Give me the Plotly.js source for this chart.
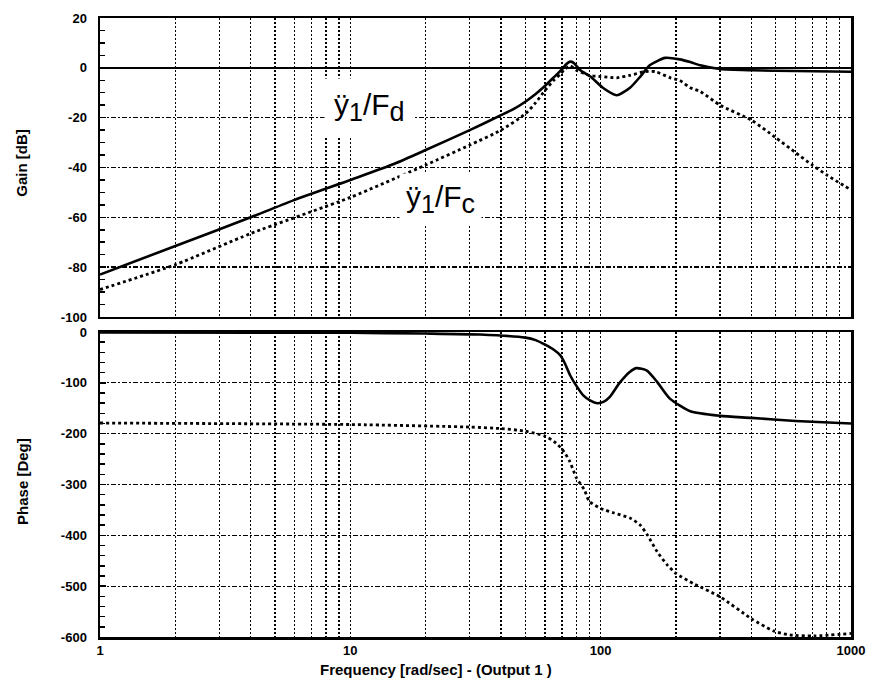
<!DOCTYPE html>
<html>
<head>
<meta charset="utf-8">
<script src="https://cdn.plot.ly/plotly-3.0.1.min.js"></script>
<style>
  html, body { margin: 0; padding: 0; background: #fff; }
  #plot { width: 872px; height: 684px; }
</style>
</head>
<body>
<div id="plot"></div>
<script>
// Frequency response of output 1: acceleration per disturbance force (Fd) and per control force (Fc)

// Gain, y1''/Fd  (solid)
const gainFdFreq = [1, 2, 4, 6, 10, 15, 20, 30, 40, 45, 50, 55, 60, 65, 70, 73, 75.5, 78, 83, 91, 102, 116, 131, 144, 157, 181, 207, 228, 250, 300, 400, 600, 1000];
const gainFdDb   = [-83, -71.5, -60, -53, -45, -38.5, -33, -25, -19, -16.5, -13.6, -10.5, -7.2, -3.8, -0.6, 1.5, 2.5, 2, -1, -3.5, -8, -11, -8, -3.5, 1, 4, 3.4, 2.3, 1, -0.5, -1, -1.3, -1.6];

// Gain, y1''/Fc  (dotted)
const gainFcFreq = [1, 2, 4, 10, 20, 30, 40, 50, 55, 60, 65, 69, 72, 75.5, 80, 90, 100, 116, 131, 150, 165, 190, 207, 228, 250, 300, 400, 500, 600, 700, 800, 1000];
const gainFcDb   = [-89, -79, -66.5, -52, -39, -31, -25, -18.5, -14, -9, -5, -2.5, -0.5, 0.8, -1, -3, -3.5, -4, -3, -1.5, -1.5, -4, -5, -8, -9.5, -15, -21, -28, -34, -39, -43, -49];

// Phase, y1''/Fd  (solid)
const phaseFdFreq = [1, 10, 20, 33, 50, 55, 60, 65, 69, 72, 75.5, 80, 85, 91, 97, 103, 109, 119, 131, 139, 153, 168, 189, 228, 300, 400, 600, 1000];
const phaseFdDeg  = [-1, -1.5, -3, -5, -11, -16, -25, -35, -46, -62, -85, -106, -124, -135, -140, -137, -127, -100, -78, -71, -76, -98, -131, -156, -165, -169, -175, -180];

// Phase, y1''/Fc  (dotted)
const phaseFcFreq = [1, 10, 30, 40, 50, 60, 65, 70, 75, 80, 86, 90, 100, 113, 131, 144, 154, 168, 185, 200, 235, 300, 400, 490, 570, 710, 1000];
const phaseFcDeg  = [-179, -182, -187, -190, -195, -205, -215, -230, -253, -287, -310, -333, -347, -356, -366, -380, -400, -432, -459, -475, -495, -521, -564, -588, -596, -598, -593];

// Log grid positions and decade labels on the frequency axis
const freqGrid = [1, 2, 3, 4, 5, 6, 7, 8, 9, 10, 20, 30, 40, 50, 60, 70, 80, 90, 100, 200, 300, 400, 500, 600, 700, 800, 900, 1000];
const decadeLabels = { 1: '1', 10: '10', 100: '100', 1000: '1000' };
const freqText = freqGrid.map(v => decadeLabels[v] || '');

// Gain and phase tick values with plain hyphen labels
const gainTicks = [20, 0, -20, -40, -60, -80, -100];
const gainTickText = ['20', '0', '-20', '-40', '-60', '-80', '-100'];
const phaseTicks = [0, -100, -200, -300, -400, -500, -600];
const phaseTickText = ['0', '-100', '-200', '-300', '-400', '-500', '-600'];

const FONT = 'Liberation Sans, Arial, Helvetica, sans-serif';

const solid = { color: '#000', width: 2.6, shape: 'spline', smoothing: 0.6 };
const dotted = { color: '#000', width: 2.8, dash: '3px,3px', shape: 'spline', smoothing: 0.6 };

const traces = [
  { x: gainFdFreq, y: gainFdDb, xaxis: 'x', yaxis: 'y', mode: 'lines', line: solid, name: 'Fd gain' },
  { x: gainFcFreq, y: gainFcDb, xaxis: 'x', yaxis: 'y', mode: 'lines', line: dotted, name: 'Fc gain' },
  { x: phaseFdFreq, y: phaseFdDeg, xaxis: 'x2', yaxis: 'y2', mode: 'lines', line: solid, name: 'Fd phase' },
  { x: phaseFcFreq, y: phaseFcDeg, xaxis: 'x2', yaxis: 'y2', mode: 'lines', line: dotted, name: 'Fc phase' }
];

const xCommon = {
  type: 'log',
  range: [0, 3],
  tickmode: 'array',
  tickvals: freqGrid,
  ticktext: freqText,
  ticks: '',
  showgrid: true,
  gridcolor: '#000',
  gridwidth: 1.3,
  griddash: '2px,2px',
  zeroline: false,
  showline: true,
  mirror: true,
  linecolor: '#000',
  linewidth: 2.5,
  tickfont: { family: FONT, size: 13, color: '#000', weight: 'bold' },
  ticklabelstandoff: 0,
  fixedrange: true
};

const yCommon = {
  tickmode: 'array',
  showgrid: true,
  gridcolor: '#000',
  gridwidth: 1.3,
  griddash: '5px,2px,2px,2px',
  showline: true,
  mirror: true,
  linecolor: '#000',
  linewidth: 2.5,
  ticks: 'inside',
  ticklen: 6,
  tickwidth: 1.5,
  tickcolor: '#000',
  tickfont: { family: FONT, size: 13, color: '#000', weight: 'bold' },
  ticklabelstandoff: 8,
  fixedrange: true
};

const layout = {
  width: 872,
  height: 684,
  margin: { l: 100, r: 21, t: 18, b: 47 },
  paper_bgcolor: '#fff',
  plot_bgcolor: '#fff',
  showlegend: false,
  font: { family: FONT, color: '#000' },
  xaxis: Object.assign({}, xCommon, { anchor: 'y', domain: [0, 1], showticklabels: false }),
  yaxis: Object.assign({}, yCommon, {
    anchor: 'x', domain: [0.517, 1], range: [-100, 20],
    tickvals: gainTicks, ticktext: gainTickText,
    zeroline: true, zerolinecolor: '#000', zerolinewidth: 1.5,
    minor: { tickmode: 'linear', tick0: 0, dtick: 5, ticks: 'inside', ticklen: 5, tickwidth: 1.5, tickcolor: '#000', showgrid: false }
  }),
  xaxis2: Object.assign({}, xCommon, { anchor: 'y2', domain: [0, 1], showticklabels: true }),
  yaxis2: Object.assign({}, yCommon, {
    anchor: 'x2', domain: [0, 0.4927], range: [-600, 0],
    tickvals: phaseTicks, ticktext: phaseTickText,
    zeroline: false,
    minor: { tickmode: 'linear', tick0: 0, dtick: 20, ticks: 'inside', ticklen: 5, tickwidth: 1.5, tickcolor: '#000', showgrid: false }
  }),
  annotations: [
    {
      text: 'Gain [dB]', xref: 'paper', yref: 'paper', x: -0.104, y: 0.766,
      textangle: -90, showarrow: false, xanchor: 'center', yanchor: 'middle',
      font: { family: FONT, size: 15, color: '#000', weight: 'bold' }
    },
    {
      text: 'Phase [Deg]', xref: 'paper', yref: 'paper', x: -0.104, y: 0.252,
      textangle: -90, showarrow: false, xanchor: 'center', yanchor: 'middle',
      font: { family: FONT, size: 15, color: '#000', weight: 'bold' }
    },
    {
      text: 'Frequency [rad/sec] - (Output 1 )', xref: 'paper', yref: 'paper', x: 0.447, y: -0.052,
      showarrow: false, xanchor: 'center', yanchor: 'middle',
      font: { family: FONT, size: 15, color: '#000', weight: 'bold' }
    },
    {
      text: 'ÿ<sub><span style="font-size:25px">1</span></sub>/F<sub><span style="font-size:27px">d</span></sub>',
      xref: 'x', yref: 'y', x: Math.log10(11.9), y: -16,
      showarrow: false, xanchor: 'center', yanchor: 'middle',
      bgcolor: '#fff', borderpad: 9,
      font: { family: FONT, size: 30, color: '#000' }
    },
    {
      text: 'ÿ<sub><span style="font-size:25px">1</span></sub>/F<sub><span style="font-size:27px">c</span></sub>',
      xref: 'x', yref: 'y', x: Math.log10(23.0), y: -53,
      showarrow: false, xanchor: 'center', yanchor: 'middle',
      bgcolor: '#fff', borderpad: 6,
      font: { family: FONT, size: 30, color: '#000' }
    }
  ]
};

Plotly.newPlot('plot', traces, layout, { staticPlot: true, displayModeBar: false });
</script>
</body>
</html>
